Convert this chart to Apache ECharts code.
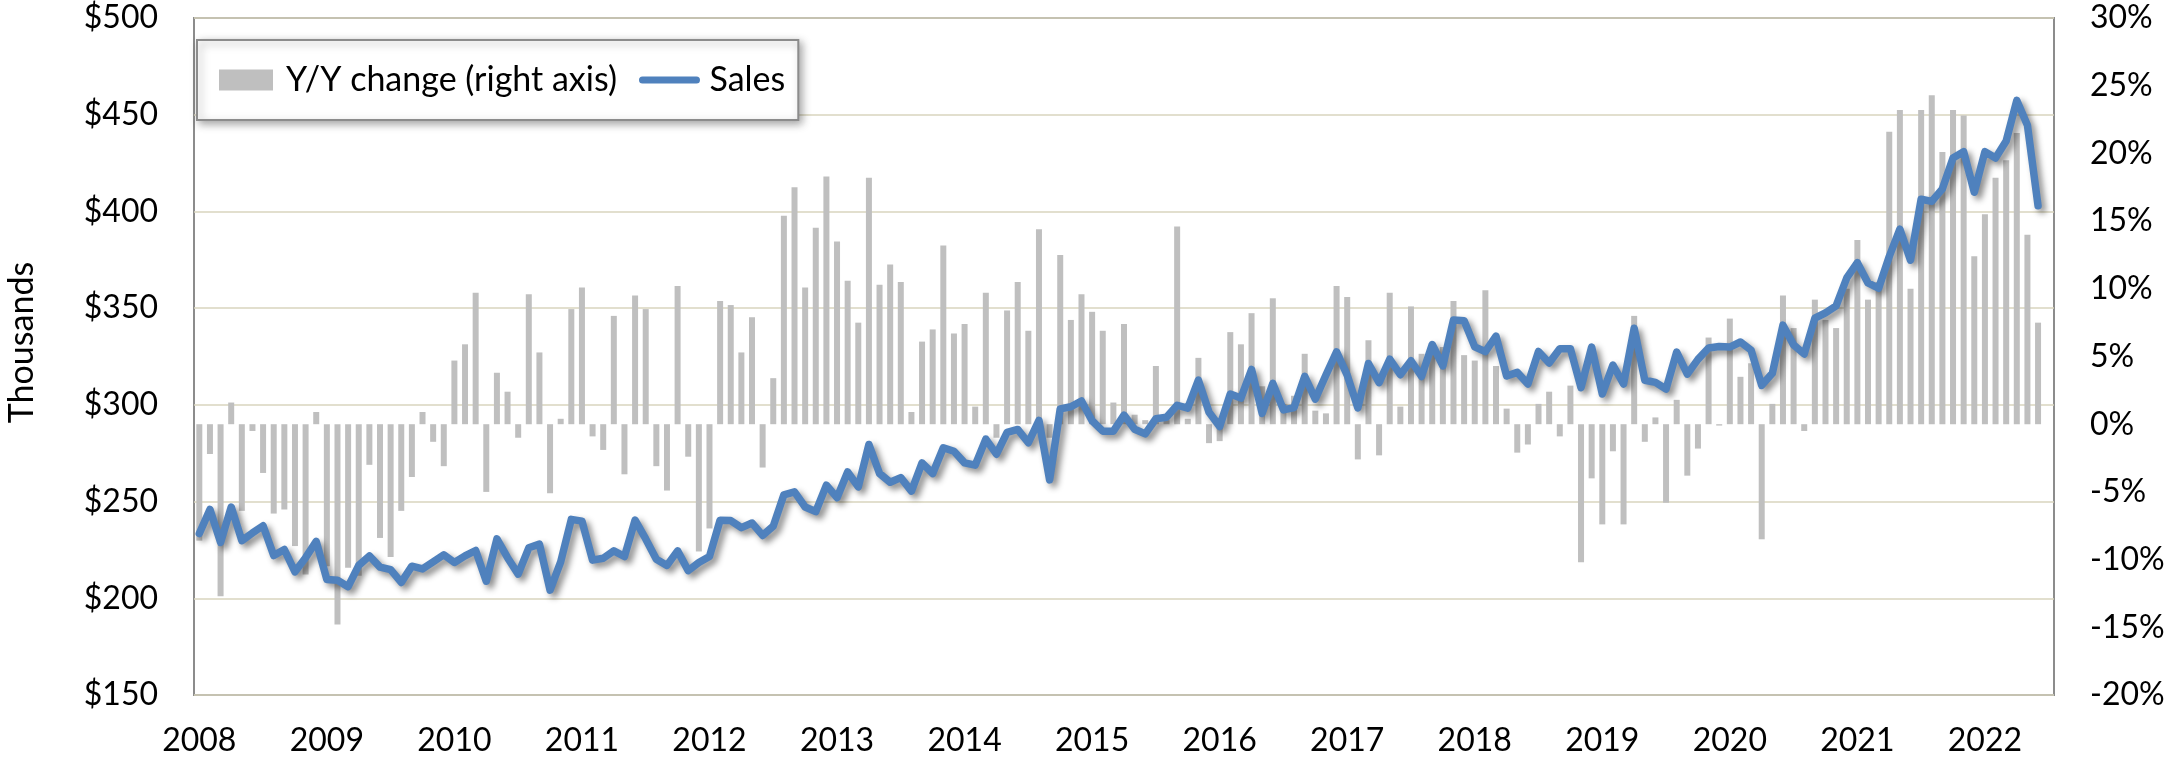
<!DOCTYPE html>
<html>
<head>
<meta charset="utf-8">
<title>Sales and Y/Y change</title>
<script src="https://cdn.jsdelivr.net/npm/echarts@6/dist/echarts.min.js"></script>
<style>
  html, body { margin: 0; padding: 0; background: #fff; }
  #chart { width: 2165px; height: 764px; }
</style>
</head>
<body>
<div id="chart"></div>
<script>
// monthly series, Jan 2008 .. Jun 2022
const startYear = 2008;
const monthCount = 175; // axis runs one spare month past the last value

// Y/Y change, % (right axis)
const yoyChange = [
  -8.6, -2.2, -12.7, 1.6, -6.4, -0.5, -3.6, -6.6, -6.3, -9.0, -11.1, 0.9,   // 2008
  -10.5, -14.8, -10.6, -11.2, -3.0, -8.4, -9.8, -6.4, -3.9, 0.9, -1.3, -3.1, // 2009
  4.7, 5.9, 9.7, -5.0, 3.8, 2.4, -1.0, 9.6, 5.3, -5.1, 0.4, 8.5,          // 2010
  10.1, -0.9, -1.9, 8.0, -3.7, 9.5, 8.5, -3.1, -4.9, 10.2, -2.4, -9.4,     // 2011
  -7.7, 9.1, 8.8, 5.3, 7.9, -3.2, 3.4, 15.4, 17.5, 10.1, 14.5, 18.3,       // 2012
  13.5, 10.6, 7.5, 18.2, 10.3, 11.8, 10.5, 0.9, 6.1, 7.0, 13.2, 6.7,       // 2013
  7.4, 1.3, 9.7, -1.0, 8.4, 10.5, 6.9, 14.4, -1.0, 12.5, 7.7, 9.6,         // 2014
  8.3, 6.9, 1.6, 7.4, 0.7, 0.3, 4.3, 0.3, 14.6, 0.4, 4.9, -1.4,            // 2015
  -1.25, 6.8, 5.9, 8.2, 2.8, 9.3, 1.5, 2.1, 5.2, 1.0, 0.8, 10.2,          // 2016
  9.4, -2.6, 6.2, -2.3, 9.7, 1.3, 8.7, 5.2, 6.0, 5.7, 9.1, 5.1,            // 2017
  4.7, 9.9, 4.3, 1.15, -2.1, -1.5, 1.5, 2.4, -0.9, 2.85, -10.2, -4.0,     // 2018
  -7.4, -2.0, -7.4, 8.0, -1.3, 0.5, -5.8, 1.8, -3.8, -1.8, 6.4, -0.1,      // 2019
  7.8, 3.5, 4.5, -8.5, 1.5, 9.5, 7.1, -0.5, 9.2, 7.7, 7.1, 10.0,           // 2020
  13.6, 9.2, 10.5, 21.6, 23.2, 10.0, 23.2, 24.3, 20.1, 23.2, 22.8, 12.4,   // 2021
  15.5, 18.2, 19.5, 21.5, 14.0, 7.5                                        // 2022
];

// Sales, $ thousands (left axis)
const sales = [
  233.5, 245.9, 228.9, 247.2, 229.8, 233.8, 237.5, 222.1, 225.2, 213.7, 221.0, 229.4, // 2008
  209.7, 209.3, 206.0, 217.0, 221.9, 216.1, 214.8, 208.2, 216.6, 215.2, 218.8, 222.5, // 2009
  218.5, 221.9, 224.7, 208.8, 230.7, 221.0, 212.5, 226.1, 228.0, 204.2, 218.8, 240.8, // 2010
  239.9, 219.7, 220.7, 224.5, 221.6, 240.4, 230.7, 220.2, 217.0, 224.5, 214.3, 218.5, // 2011
  221.6, 240.4, 240.2, 236.5, 238.9, 232.5, 237.3, 253.5, 255.0, 247.2, 244.8, 258.5, // 2012
  252.0, 265.3, 257.6, 279.5, 264.5, 260.0, 262.4, 255.4, 270.0, 264.5, 277.8, 276.0, // 2013
  270.0, 268.8, 282.3, 274.5, 285.8, 287.3, 280.4, 292.0, 261.2, 297.9, 299.0, 302.0, // 2014
  291.8, 286.4, 286.4, 294.7, 287.4, 285.0, 292.8, 293.6, 299.8, 298.3, 312.8, 296.2, // 2015
  288.8, 305.6, 303.5, 318.3, 295.6, 311.1, 297.4, 298.6, 314.7, 303.0, 315.4, 327.4, // 2016
  315.4, 298.4, 321.4, 311.5, 323.6, 315.6, 322.8, 314.7, 331.2, 320.2, 343.9, 343.5, // 2017
  330.0, 327.5, 335.5, 314.9, 316.8, 310.8, 327.6, 321.6, 329.0, 329.0, 308.9, 329.9, // 2018
  305.6, 320.6, 310.8, 339.6, 312.7, 311.6, 308.2, 327.3, 315.9, 323.5, 329.4, 330.2, // 2019
  329.9, 332.5, 328.3, 310.1, 316.3, 341.2, 331.0, 326.3, 344.8, 347.6, 351.2, 365.6, // 2020
  373.5, 363.0, 360.3, 376.7, 390.8, 374.8, 406.3, 405.2, 411.7, 427.6, 430.9, 409.9, // 2021
  430.9, 427.6, 436.4, 457.4, 444.6, 402.9                                            // 2022
];

// category labels "YYYY-MM"
const months = [];
for (let i = 0; i < monthCount; i++) {
  const y = startYear + Math.floor(i / 12);
  const m = (i % 12) + 1;
  months.push(y + '-' + (m < 10 ? '0' + m : m));
}

const FONT = 'Lato';
const BLUE = '#4f81bd';
const labelStyle = { fontFamily: FONT, fontSize: 32, color: '#000' };
const bigText = { fontFamily: FONT, fontSize: 34, color: '#000' };

const myChart = echarts.init(document.getElementById('chart'));
myChart.setOption({
  animation: false,
  backgroundColor: '#fff',
  textStyle: { fontFamily: FONT },
  grid: {
    left: 194,
    right: 111,
    top: 18,
    bottom: 69,
    show: true,
    borderColor: '#8c8c8c',
    borderWidth: 2,
    outerBoundsMode: 'none'
  },
  legend: {
    left: 197,
    top: 40,
    padding: [23, 13, 23, 22],
    itemGap: 22,
    itemWidth: 54,
    itemHeight: 21,
    backgroundColor: '#fff',
    borderColor: '#8c8c8c',
    borderWidth: 2,
    shadowBlur: 8,
    shadowColor: 'rgba(0,0,0,0.35)',
    shadowOffsetX: 3,
    shadowOffsetY: 3,
    textStyle: Object.assign({ padding: [0, 0, 0, 8] }, bigText),
    data: [
      { name: 'Y/Y change (right axis)', icon: 'rect' },
      {
        name: 'Sales',
        itemStyle: { opacity: 0 },
        lineStyle: { color: BLUE, width: 7, cap: 'round', shadowBlur: 0, shadowOffsetX: 0, shadowOffsetY: 0 }
      }
    ]
  },
  xAxis: {
    type: 'category',
    data: months,
    boundaryGap: true,
    axisLine: { show: false },
    axisTick: { show: false },
    axisLabel: Object.assign({
      interval: 11,
      margin: 30,
      formatter: v => v.slice(0, 4)
    }, labelStyle)
  },
  yAxis: [
    {
      type: 'value',
      min: 150,
      max: 500,
      interval: 50,
      name: 'Thousands',
      nameLocation: 'middle',
      nameGap: 155,
      nameTextStyle: Object.assign({ padding: [0, 0, 0, 28] }, bigText),
      axisLine: { show: false },
      axisTick: { show: false },
      axisLabel: Object.assign({ margin: 36, formatter: '${value}' }, labelStyle),
      splitLine: { lineStyle: { color: '#d9d4be', width: 1.5 } }
    },
    {
      type: 'value',
      position: 'right',
      min: -20,
      max: 30,
      interval: 5,
      axisLine: { show: false },
      axisTick: { show: false },
      axisLabel: Object.assign({ margin: 36, formatter: '{value}%' }, labelStyle),
      splitLine: { show: false }
    }
  ],
  series: [
    {
      name: 'Y/Y change (right axis)',
      type: 'bar',
      yAxisIndex: 1,
      barWidth: 6,
      itemStyle: { color: '#bfbfbf' },
      data: yoyChange
    },
    {
      name: 'Sales',
      type: 'line',
      yAxisIndex: 0,
      symbol: 'none',
      z: 5,
      lineStyle: {
        color: BLUE,
        width: 7.5,
        cap: 'round',
        join: 'round',
        shadowBlur: 6,
        shadowColor: 'rgba(0,0,0,0.45)',
        shadowOffsetX: 4,
        shadowOffsetY: 4
      },
      data: sales
    }
  ]
});
</script>
</body>
</html>
